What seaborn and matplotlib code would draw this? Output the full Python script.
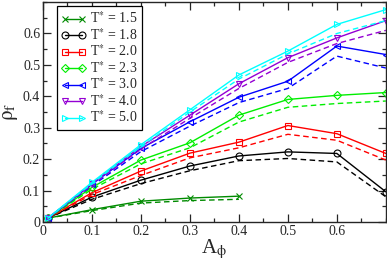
import numpy as np
import pandas as pd
import matplotlib
matplotlib.use("Agg")
import matplotlib.pyplot as plt
import seaborn as sns
from matplotlib.ticker import MultipleLocator

# ── Data ────────────────────────────────────────────────────
A_phi = [0.01, 0.1, 0.2, 0.3, 0.4, 0.5, 0.6, 0.7]
A_phi_15 = [0.01, 0.1, 0.2, 0.3, 0.4]

temps = ["1.5", "1.8", "2.0", "2.3", "3.0", "4.0", "5.0"]

rho_15_solid = [0.012, 0.039, 0.066, 0.076, 0.082]
rho_15_dash = [0.012, 0.036, 0.060, 0.068, 0.072]
rho_18_solid = [0.012, 0.079, 0.133, 0.178, 0.210, 0.223, 0.218, 0.096]
rho_18_dash = [0.012, 0.072, 0.122, 0.163, 0.195, 0.202, 0.191, 0.080]
rho_20_solid = [0.012, 0.093, 0.162, 0.219, 0.254, 0.307, 0.281, 0.218]
rho_20_dash = [0.012, 0.087, 0.148, 0.204, 0.236, 0.279, 0.260, 0.197]
rho_23_solid = [0.012, 0.110, 0.197, 0.252, 0.340, 0.390, 0.403, 0.412]
rho_23_dash = [0.012, 0.104, 0.185, 0.236, 0.318, 0.365, 0.377, 0.385]
rho_30_solid = [0.012, 0.120, 0.234, 0.319, 0.397, 0.448, 0.560, 0.533]
rho_30_dash = [0.012, 0.115, 0.224, 0.305, 0.380, 0.425, 0.528, 0.490]
rho_40_solid = [0.012, 0.122, 0.240, 0.340, 0.440, 0.523, 0.586, 0.641]
rho_40_dash = [0.012, 0.118, 0.232, 0.330, 0.425, 0.508, 0.568, 0.610]
rho_50_solid = [0.012, 0.126, 0.246, 0.357, 0.468, 0.544, 0.629, 0.676]
rho_50_dash = [0.012, 0.122, 0.240, 0.350, 0.455, 0.535, 0.600, 0.641]

colors = ["#008b00", "#000000", "#ff0000", "#00ee00", "#0000ff", "#9400d3", "#00ffff"]
markers = ["x", "o", "s", "D", "<", "v", ">"]
msizes = [4, 5, 4.5, 3.8, 5, 5, 5]

series = [
    (A_phi_15, rho_15_solid, rho_15_dash),
    (A_phi, rho_18_solid, rho_18_dash),
    (A_phi, rho_20_solid, rho_20_dash),
    (A_phi, rho_23_solid, rho_23_dash),
    (A_phi, rho_30_solid, rho_30_dash),
    (A_phi, rho_40_solid, rho_40_dash),
    (A_phi, rho_50_solid, rho_50_dash),
]

sns.set_style("ticks")
plt.rcParams["font.family"] = ["Liberation Serif", "DejaVu Serif"]
plt.rcParams["mathtext.fontset"] = "stix"

fig = plt.figure(figsize=(3.87, 2.62), dpi=100)
ax = fig.add_axes([0.111, 0.153, 0.886, 0.839])

for T, (xs, ys, yd), c, m, ms in zip(temps, series, colors, markers, msizes):
    df = pd.DataFrame({"x": xs, "solid": ys, "dash": yd})
    sns.lineplot(data=df, x="x", y="solid", ax=ax, color=c, lw=1.0,
                 marker=m, markersize=ms,
                 markerfacecolor="none", markeredgecolor=c, markeredgewidth=0.8,
                 label=f"T$^{{*}}$ = {T}")
    sns.lineplot(data=df, x="x", y="dash", ax=ax, color=c, lw=1.0,
                 linestyle=(0, (4, 2.5)))

ax.set_xlim(0, 0.7)
ax.set_ylim(0, 0.7)
ax.set_xticks([0, 0.1, 0.2, 0.3, 0.4, 0.5, 0.6])
ax.set_xticklabels(["0", "0.1", "0.2", "0.3", "0.4", "0.5", "0.6"])
ax.set_yticks([0, 0.1, 0.2, 0.3, 0.4, 0.5, 0.6])
ax.set_yticklabels(["0", "0.1", "0.2", "0.3", "0.4", "0.5", "0.6"])
ax.xaxis.set_minor_locator(MultipleLocator(0.05))
ax.yaxis.set_minor_locator(MultipleLocator(0.05))
ax.tick_params(which="both", direction="in", top=True, right=True, labelsize=10, width=0.9)
ax.tick_params(which="major", length=6, pad=2)
ax.tick_params(which="minor", length=3)
for s in ax.spines.values():
    s.set_linewidth(1.0)

ax.set_xlabel(r"A$_\mathrm{\phi}$", fontsize=15, labelpad=0)
ax.set_ylabel(r"$\mathrm{\rho}_\mathrm{f}$", fontsize=15, labelpad=2)

leg = ax.legend(loc="upper left", bbox_to_anchor=(0.04, 0.98), numpoints=2,
                fontsize=10, handlelength=1.8, handletextpad=0.3,
                labelspacing=0.05, borderpad=0.3, fancybox=False,
                framealpha=1, edgecolor="black", borderaxespad=0)
leg.get_frame().set_linewidth(0.9)

fig.savefig("out.png", dpi=100)
